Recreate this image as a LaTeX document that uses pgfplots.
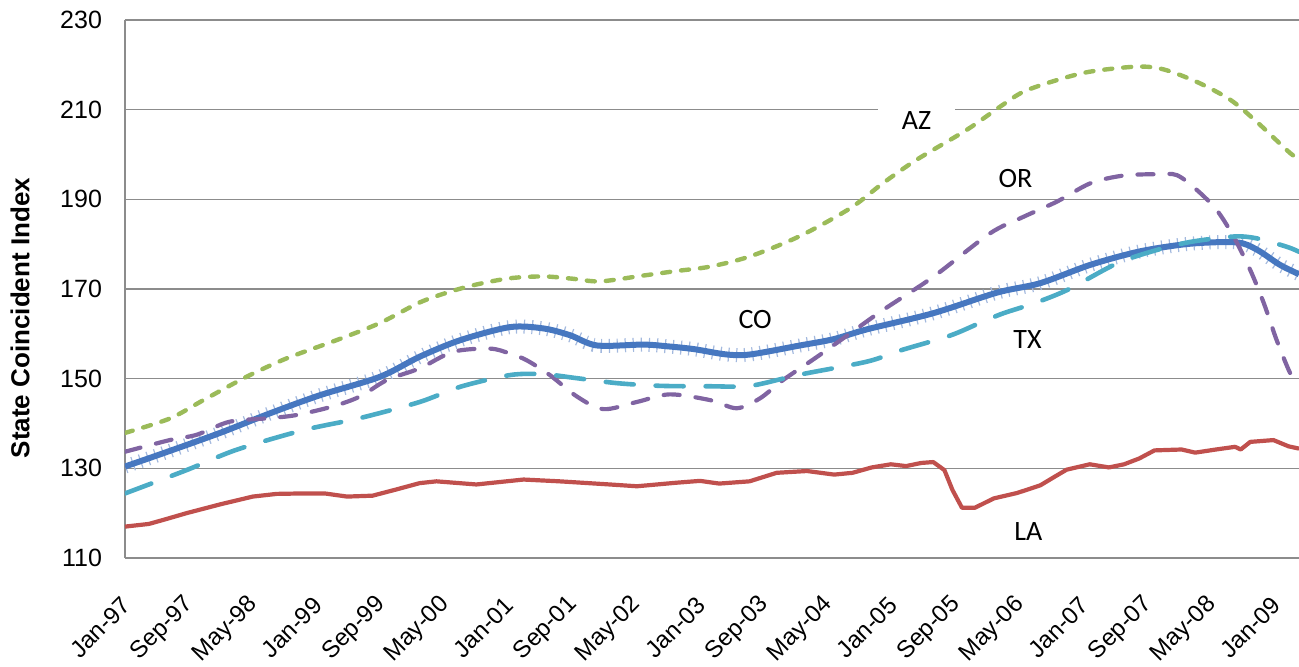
\documentclass[border=0pt]{standalone}
\usepackage{pgfplots}
\usepackage{pgfplotstable}
\pgfplotsset{compat=1.18}
\usepackage{fontspec}
\setmainfont{Liberation Sans}
\newfontfamily\calibri{Carlito}
\definecolor{azc}{HTML}{9BBB59}
\definecolor{orc}{HTML}{8064A2}
\definecolor{coc}{HTML}{4677C0}
\definecolor{hatchc}{HTML}{A3B9DE}
\definecolor{txc}{HTML}{4BACC6}
\definecolor{lac}{HTML}{C0504D}
\definecolor{gridc}{HTML}{8C8C8C}

\pgfplotstableread{
m v
0 137.9
5.6 141.1
9.8 145.2
15.2 150.4
20.2 154.5
26.5 158.6
31.9 162.4
36.9 167.0
40.7 169.4
44 171.0
48.2 172.4
52.4 172.8
56 172.3
59.5 171.7
64.9 173.0
69 174.0
73.3 175.0
78.3 177.3
84.5 181.8
90.8 188.0
94.9 193.6
99.1 198.8
105.4 205.5
109.6 210.7
112.5 214.0
116.7 216.6
120.9 218.5
126.7 219.6
130 219.0
134.2 216.2
138.4 212.2
141.7 207.3
145.9 200.3
147 199.2
}\AZ

\pgfplotstableread{
m v
0 133.7
5.6 136.3
9 137.5
13.1 140.4
18.2 141.2
21.5 141.9
26 143.8
29.4 146.0
32.8 149.7
36.9 152.3
41.1 156.0
45.7 156.7
48.2 155.6
50.3 154.1
53.2 150.8
56.6 146.0
59.9 143.2
64.1 144.8
68.2 146.5
73.3 145.2
76.6 143.4
79.5 145.6
82.4 149.7
86.6 154.8
90.8 160.1
94.9 165.3
101.2 172.7
108.3 182.4
112.5 186.1
116.7 189.5
120.9 193.6
125 195.3
129.2 195.6
131.7 195.4
134.2 192.1
136.7 187.6
138.8 181.7
140.9 174.2
142.6 166.8
144.2 158.6
145.9 151.2
147 148.5
}\OR

\pgfplotstableread{
m v
0 130.4
5 133.5
11.9 137.9
18.2 142.3
24.4 146.3
31.9 150.4
36.9 154.9
42 158.6
48.2 161.5
52.4 161.2
55.7 159.7
59.1 157.4
64.9 157.6
68 157.2
71.2 156.6
75.3 155.4
78.3 155.4
84.5 157.4
88.7 158.8
92.9 161.0
101.2 164.6
109.2 169.2
114.6 171.3
120.9 175.4
127.1 178.4
133.4 180.1
139.2 180.4
141.7 178.8
144.6 175.4
147 173.3
}\CO

\pgfplotstableread{
m v
0 124.4
7.7 129.6
13.9 134.1
22.3 138.5
29.4 141.2
36.9 144.8
42 148.2
48.2 150.8
52.4 151.0
56.6 150.1
61.6 149.0
67 148.4
73.3 148.3
78.3 148.4
84.5 150.9
92.9 153.8
97.1 156.3
103.3 159.6
107.5 162.8
110 164.6
113.8 166.8
118 169.8
124.2 175.7
129.2 178.7
133.4 180.5
138.8 181.7
141.7 181.3
145.5 179.4
147 178.3
}\TX

\pgfplotstableread{
m v
0 117.0
3 117.6
5 118.6
7.7 120.0
12 122.0
16 123.7
19 124.3
22.3 124.4
25 124.4
27.8 123.7
31 123.9
34 125.3
36.9 126.7
39 127.1
44 126.4
49.9 127.5
54.4 127.1
60.7 126.4
64.1 126.0
69.1 126.8
72 127.2
74.4 126.6
78.2 127.1
81.6 129.0
85.4 129.4
88.8 128.6
91.1 129.0
93.5 130.2
95.9 130.9
97.8 130.5
99.7 131.2
101.2 131.4
102.6 129.6
103.6 125.2
104.8 121.2
106.4 121.2
108.8 123.3
111.7 124.5
114.6 126.2
116.0 127.7
117.9 129.7
120.8 130.9
123.2 130.2
125.1 130.9
127.0 132.2
128.9 134.0
132.3 134.2
134.0 133.5
136.6 134.2
139.0 134.8
139.7 134.2
140.9 135.9
143.8 136.3
145.7 134.9
147 134.4
}\LA

\begin{document}
\begin{tikzpicture}
\begin{axis}[name=ax, scale only axis, width=587pt, height=269pt,
  xmin=0, xmax=147, ymin=110, ymax=230,
  ytick={110,130,...,230},
  xtick={0,8,...,144},
  xticklabels={Jan-97,Sep-97,May-98,Jan-99,Sep-99,May-00,Jan-01,Sep-01,May-02,Jan-03,Sep-03,May-04,Jan-05,Sep-05,May-06,Jan-07,Sep-07,May-08,Jan-09},
  axis x line*=bottom, axis y line*=left,
  axis line style={draw=gridc, line width=0.7pt, -},
  major tick length=0pt,
  ymajorgrids, grid style={draw=gridc, line width=0.6pt},
  tick label style={font=\fontsize{12.5}{15}\selectfont},
  /pgf/number format/assume math mode=true,
  y tick label style={xshift=-8pt},
  x tick label style={xshift=0.7pt, yshift=-21.5pt, rotate=45, anchor=east, inner sep=0pt, font=\fontsize{12}{14}\selectfont},
  ylabel={State Coincident Index},
  ylabel style={font=\bfseries\fontsize{13}{15}\selectfont, at={(axis description cs:-0.0894,0.446)}, anchor=center},
]
\node[fill=white, inner xsep=12pt, inner ysep=3pt, font=\calibri\fontsize{14}{16}\selectfont] at (axis cs:99.1,207.6) {AZ};
\node[font=\calibri\fontsize{14}{16}\selectfont] at (axis cs:111.5,194.7) {OR};
\node[font=\calibri\fontsize{14}{16}\selectfont] at (axis cs:78.9,163.1) {CO};
\node[font=\calibri\fontsize{14}{16}\selectfont] at (axis cs:113.0,158.8) {TX};
\node[font=\calibri\fontsize{14}{16}\selectfont] at (axis cs:113.1,115.9) {LA};
\addplot[draw=hatchc, line width=7pt, dash pattern=on 0.6pt off 3.4pt, smooth, tension=0.5] table[x=m,y=v] {\CO};
\addplot[draw=coc, line width=3pt, smooth, tension=0.5] table[x=m,y=v] {\CO};
\addplot[draw=lac, line width=2.1pt, line join=round] table[x=m,y=v] {\LA};
\addplot[draw=azc, line width=2.2pt, line cap=round, dash pattern=on 4pt off 5.5pt, smooth, tension=0.5] table[x=m,y=v] {\AZ};
\addplot[draw=orc, line width=2.1pt, line cap=round, dash pattern=on 8pt off 8pt, smooth, tension=0.5] table[x=m,y=v] {\OR};
\addplot[draw=txc, line width=2.3pt, line cap=round, dash pattern=on 14pt off 11pt, smooth, tension=0.5] table[x=m,y=v] {\TX};
\end{axis}
\pgfresetboundingbox
\path[use as bounding box] ([shift={(-62.5pt,-54.5pt)}]ax.south west) rectangle ([shift={(0pt,10pt)}]ax.north east);
\end{tikzpicture}
\end{document}
